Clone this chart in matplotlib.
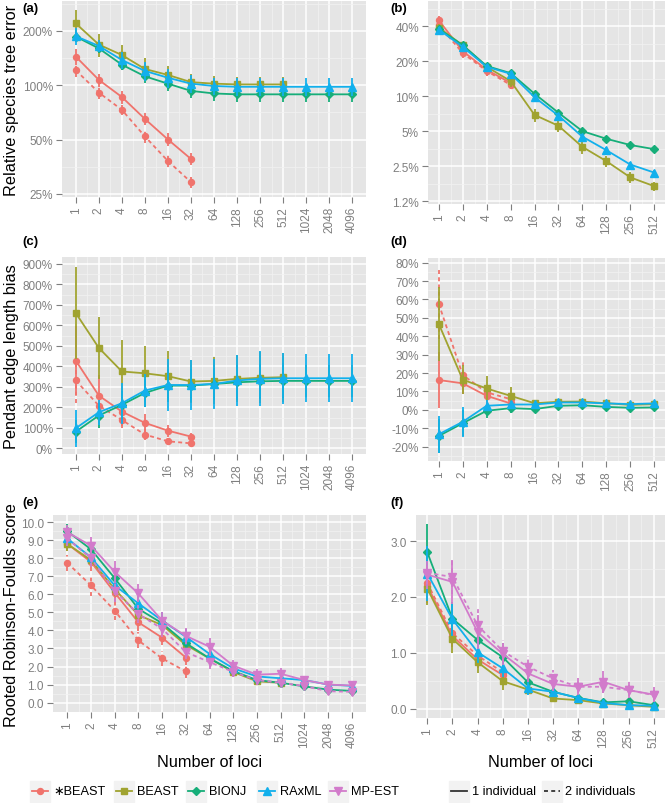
import numpy as np
import matplotlib
matplotlib.use('Agg')
import matplotlib.pyplot as plt
from matplotlib.patches import Rectangle
from matplotlib.ticker import FixedLocator, NullFormatter

plt.rcParams['font.family'] = ['Liberation Sans', 'DejaVu Sans']

W, H = 667, 804

# methods / legend
METHODS = ['\u2217BEAST', 'BEAST', 'BIONJ', 'RAxML', 'MP-EST']
COLORS = ['#F0736C', '#A0A330', '#16AE79', '#12B0EC', '#D27BCB']
MARKERS = ['o', 's', 'D', '^', 'v']
MSIZE = [4.3, 3.9, 3.6, 5.6, 5.6]
LINETYPES = ['1 individual', '2 individuals']

LOCI_LEFT = [1, 2, 4, 8, 16, 32, 64, 128, 256, 512, 1024, 2048, 4096]
LOCI_RIGHT = [1, 2, 4, 8, 16, 32, 64, 128, 256, 512]

# (a) relative species tree error, %
A_SB1 = [144, 107, 86, 65, 50, 39]
A_SB1_ERR = [14, 9, 7, 5, 4, 3]
A_SB2 = [121, 91, 73, 52, 38, 29]
A_SB2_ERR = [10, 7, 5, 4, 3, 2]
A_BE = [220, 168, 147, 123, 114, 104, 102, 101, 101, 101]
A_BE_ERR = [40, 25, 20, 18, 14, 12, 10, 10, 10, 10]
A_NJ = [186, 160, 130, 112, 102, 93, 90, 89, 89, 89, 89, 89, 89]
A_NJ_ERR = [12, 10, 9, 9, 9, 8, 8, 8, 8, 8, 8, 8, 8]
A_RX = [187, 165, 138, 120, 110, 102, 99, 98, 98, 98, 98, 98, 98]
A_RX_ERR = [20, 12, 15, 14, 13, 12, 11, 11, 11, 11, 11, 11, 11]

# (b) relative species tree error, %
B_SB1 = [45, 24.4, 16.9, 13.0]
B_SB1_ERR = [4, 2.5, 2, 1.2]
B_SB2 = [41, 23.5, 16.5, 12.5]
B_SB2_ERR = [3, 2, 1.5, 1]
B_BE = [38.7, 27.5, 17.9, 13.5, 6.9, 5.56, 3.66, 2.76, 2.0, 1.68]
B_BE_ERR = [3, 2, 1.5, 1.5, 0.9, 0.6, 0.45, 0.3, 0.22, 0.15]
B_NJ = [38, 27.5, 18.2, 15.8, 10.5, 7.2, 5.0, 4.3, 3.8, 3.5]
B_NJ_ERR = [2, 1.5, 1, 0.8, 0.6, 0.4, 0.25, 0.2, 0.15, 0.15]
B_RX = [37.4, 26.6, 17.9, 15.6, 9.8, 6.8, 4.48, 3.43, 2.58, 2.2]
B_RX_ERR = [2, 1.5, 1, 0.8, 0.6, 0.4, 0.25, 0.2, 0.15, 0.12]

# (c) pendant edge length bias, %
C_SB1 = [428, 257, 179, 124, 86, 57]
C_SB1_ERR = [170, 100, 70, 45, 30, 18]
C_SB2 = [331, 208, 138, 67, 34, 24]
C_SB2_ERR = [110, 70, 40, 25, 15, 10]
C_BE = [660, 490, 375, 366, 352, 326, 329, 339, 344, 347]
C_BE_ERR = [225, 150, 155, 135, 125, 105, 115, 115, 125, 120]
C_NJ = [81, 160, 212, 270, 306, 306, 314, 322, 327, 329, 329, 329, 329]
C_NJ_ERR = [55, 60, 70, 70, 80, 80, 80, 85, 85, 85, 80, 80, 80]
C_RX = [98, 176, 220, 282, 309, 309, 314, 331, 339, 342, 342, 342, 342]
C_RX_ERR = [90, 60, 100, 80, 125, 120, 120, 125, 135, 125, 118, 118, 118]

# (d) pendant edge length bias, %
D_SB1 = [16.2, 14.4, 7.6, 3.5]
D_SB1_ERR = [15, 6, 4, 3]
D_SB2 = [57.6, 18.9, 9.5, 5.8]
D_SB2_ERR = [19, 7, 4, 2.5]
D_BE = [46.7, 16.4, 11.6, 7.6, 3.6, 4.4, 4.5, 3.6, 2.7, 3.1]
D_BE_ERR = [20, 8, 7, 5, 1.5, 1.2, 1.2, 1, 1, 1]
D_NJ = [-14.2, -7.3, -0.5, 0.9, 0.4, 2.2, 2.5, 1.6, 1.1, 1.3]
D_NJ_ERR = [9, 7, 4, 2.5, 1.5, 1, 1, 1, 1, 1]
D_RX = [-13.3, -6.5, 2.2, 2.9, 2.9, 4.0, 4.0, 3.5, 3.1, 3.5]
D_RX_ERR = [10, 8, 3, 2, 1.5, 1.2, 1.2, 1.2, 1.2, 1.2]

# (e) rooted Robinson-Foulds score
E_SB1 = [8.8, 7.8, 6.1, 4.45, 3.6, 2.5]
E_SB1_ERR = [0.4, 0.5, 0.5, 0.5, 0.4, 0.4]
E_SB2 = [7.75, 6.5, 5.1, 3.45, 2.45, 1.73]
E_SB2_ERR = [0.45, 0.6, 0.5, 0.45, 0.4, 0.35]
E_BE = [8.8, 7.9, 6.3, 4.85, 4.3, 3.2, 2.45, 1.7, 1.18, 1.1]
E_BE_ERR = [0.4, 0.4, 0.4, 0.4, 0.35, 0.3, 0.25, 0.2, 0.15, 0.15]
E_NJ = [9.5, 8.5, 6.9, 5.2, 4.4, 3.3, 2.45, 1.75, 1.25, 1.1, 0.9, 0.72, 0.65]
E_NJ_ERR = [0.4, 0.4, 0.4, 0.4, 0.4, 0.35, 0.3, 0.2, 0.15, 0.15, 0.12, 0.1, 0.1]
E_RX = [9.1, 8.05, 6.5, 5.5, 4.55, 3.65, 2.7, 1.9, 1.45, 1.35, 1.25, 1.0, 0.93]
E_RX_ERR = [0.4, 0.4, 0.5, 0.5, 0.5, 0.45, 0.4, 0.3, 0.2, 0.2, 0.2, 0.15, 0.15]
E_MP1 = [9.45, 8.7, 7.25, 6.05, 4.55, 3.7, 3.1, 2.05, 1.55, 1.6, 1.25, 1.0, 0.95]
E_MP1_ERR = [0.4, 0.5, 0.6, 0.5, 0.45, 0.45, 0.5, 0.3, 0.3, 0.3, 0.2, 0.2, 0.15]
E_MP2 = [9.1, 8.0, 6.2, 4.9, 4.1, 2.8, 2.25, 1.7, 1.25, 1.1, 0.92, 0.63, 0.6]
E_MP2_ERR = [0.4, 0.5, 0.6, 0.5, 0.45, 0.4, 0.4, 0.3, 0.25, 0.2, 0.2, 0.15, 0.15]

# (f) rooted Robinson-Foulds score
F_SB1 = [2.2, 1.3, 0.88, 0.6]
F_SB1_ERR = [0.3, 0.2, 0.15, 0.15]
F_SB2 = [2.25, 1.35, 0.95, 0.65]
F_SB2_ERR = [0.3, 0.2, 0.15, 0.15]
F_BE = [2.15, 1.25, 0.83, 0.49, 0.34, 0.18, 0.15, 0.09, 0.06, 0.03]
F_BE_ERR = [0.3, 0.25, 0.2, 0.15, 0.08, 0.06, 0.05, 0.04, 0.03, 0.02]
F_NJ = [2.8, 1.61, 1.23, 0.92, 0.47, 0.3, 0.19, 0.11, 0.13, 0.06]
F_NJ_ERR = [0.5, 0.3, 0.2, 0.25, 0.1, 0.08, 0.06, 0.05, 0.05, 0.04]
F_RX = [2.42, 1.6, 1.01, 0.72, 0.36, 0.3, 0.19, 0.1, 0.06, 0.05]
F_RX_ERR = [0.5, 0.3, 0.2, 0.15, 0.12, 0.08, 0.06, 0.05, 0.04, 0.03]
F_MP1 = [2.4, 2.27, 1.37, 0.98, 0.63, 0.44, 0.39, 0.48, 0.33, 0.25]
F_MP1_ERR = [0.25, 0.4, 0.3, 0.2, 0.15, 0.12, 0.15, 0.2, 0.15, 0.13]
F_MP2 = [2.43, 2.36, 1.49, 1.03, 0.75, 0.54, 0.39, 0.39, 0.33, 0.24]
F_MP2_ERR = [0.2, 0.3, 0.3, 0.2, 0.2, 0.15, 0.12, 0.12, 0.1, 0.1]

GREY_TXT = '#7F7F7F'
DASH = (0, (2.2, 1.8))

fig = plt.figure(figsize=(W / 100, H / 100), dpi=100)


def panel(box, loci, series, yticks, ylabels, yminor, ylim, log=False):
    l, t, r, b = box
    ax = fig.add_axes([l / W, 1 - b / H, (r - l) / W, (b - t) / H])
    ax.set_facecolor('#E5E5E5')
    k = np.log2(loci)
    if log:
        ax.set_yscale('log')
    ax.set_xlim(-0.05 * k[-1], 1.05 * k[-1])
    ax.set_ylim(*ylim)
    ax.set_xticks(k)
    ax.set_xticklabels([str(v) for v in loci], rotation=90, va='top')
    ax.xaxis.set_minor_locator(FixedLocator(k[:-1] + 0.5))
    ax.yaxis.set_major_locator(FixedLocator(yticks))
    ax.set_yticklabels(ylabels)
    ax.yaxis.set_minor_locator(FixedLocator(yminor))
    ax.yaxis.set_minor_formatter(NullFormatter())
    ax.grid(which='major', color='white', lw=1.1)
    ax.grid(which='minor', color='#F2F2F2', lw=0.5)
    ax.set_axisbelow(True)
    for s in ax.spines.values():
        s.set_visible(False)
    ax.tick_params(which='major', length=4, width=0.8, color=GREY_TXT,
                   labelcolor=GREY_TXT, labelsize=8.5, pad=2.5)
    ax.tick_params(which='minor', length=0)
    for mi, dashed, vals, errs in series:
        v = np.array(vals, dtype=float)
        e = np.array(errs, dtype=float)
        xs = k[:len(v)]
        ls = DASH if dashed else '-'
        ax.vlines(xs, v - e, v + e, colors=COLORS[mi], lw=1.3, linestyles=ls,
                  zorder=2 + mi)
        ax.plot(xs, v, color=COLORS[mi], lw=1.3, ls=ls, marker=MARKERS[mi],
                ms=MSIZE[mi], mec=COLORS[mi], zorder=2 + mi)
    return ax


def pct(vals):
    return ['%g%%' % v for v in vals]


panel((62, 2, 366, 198), LOCI_LEFT,
      [(0, False, A_SB1, A_SB1_ERR), (0, True, A_SB2, A_SB2_ERR),
       (1, False, A_BE, A_BE_ERR), (2, False, A_NJ, A_NJ_ERR),
       (3, False, A_RX, A_RX_ERR)],
      [25, 50, 100, 200], pct([25, 50, 100, 200]),
      [35.36, 70.71, 141.4, 282.8], (24, 293), log=True)

panel((428, 2, 665, 205), LOCI_RIGHT,
      [(0, False, B_SB1, B_SB1_ERR), (0, True, B_SB2, B_SB2_ERR),
       (1, False, B_BE, B_BE_ERR), (2, False, B_NJ, B_NJ_ERR),
       (3, False, B_RX, B_RX_ERR)],
      [1.25, 2.5, 5, 10, 20, 40], ['1.2%', '2.5%', '5%', '10%', '20%', '40%'],
      [1.77, 3.54, 7.07, 14.14, 28.28, 56.57], (1.18, 66), log=True)

panel((62, 258, 366, 455), LOCI_LEFT,
      [(0, False, C_SB1, C_SB1_ERR), (0, True, C_SB2, C_SB2_ERR),
       (1, False, C_BE, C_BE_ERR), (2, False, C_NJ, C_NJ_ERR),
       (3, False, C_RX, C_RX_ERR)],
      list(range(0, 901, 100)), pct(range(0, 901, 100)),
      list(range(50, 901, 100)), (-28, 934))

panel((428, 259, 665, 462), LOCI_RIGHT,
      [(0, False, D_SB1, D_SB1_ERR), (0, True, D_SB2, D_SB2_ERR),
       (1, False, D_BE, D_BE_ERR), (2, False, D_NJ, D_NJ_ERR),
       (3, False, D_RX, D_RX_ERR)],
      list(range(-20, 81, 10)), pct(range(-20, 81, 10)),
      list(range(-25, 81, 10)), (-27.8, 82.5))

panel((53, 516, 366, 713), LOCI_LEFT,
      [(0, False, E_SB1, E_SB1_ERR), (0, True, E_SB2, E_SB2_ERR),
       (1, False, E_BE, E_BE_ERR), (2, False, E_NJ, E_NJ_ERR),
       (3, False, E_RX, E_RX_ERR), (4, False, E_MP1, E_MP1_ERR),
       (4, True, E_MP2, E_MP2_ERR)],
      np.arange(0, 10.1, 1), ['%.1f' % v for v in np.arange(0, 10.1, 1)],
      np.arange(0.5, 10.4, 1), (-0.52, 10.4))

panel((416, 516, 665, 719), LOCI_RIGHT,
      [(0, False, F_SB1, F_SB1_ERR), (0, True, F_SB2, F_SB2_ERR),
       (1, False, F_BE, F_BE_ERR), (2, False, F_NJ, F_NJ_ERR),
       (3, False, F_RX, F_RX_ERR), (4, False, F_MP1, F_MP1_ERR),
       (4, True, F_MP2, F_MP2_ERR)],
      [0, 1, 2, 3], ['0.0', '1.0', '2.0', '3.0'],
      [0.5, 1.5, 2.5], (-0.17, 3.47))

# panel tags
for tag, x, y in [('(a)', 22, 9), ('(b)', 390, 9), ('(c)', 22, 242),
                  ('(d)', 390, 242), ('(e)', 22, 503), ('(f)', 390, 503)]:
    fig.text(x / W, 1 - y / H, tag, fontsize=9.5, fontweight='bold',
             va='center', ha='left')

# axis titles
for txt, yc in [('Relative species tree error', 100),
                ('Pendant edge length bias', 357),
                ('Rooted Robinson-Foulds score', 615)]:
    fig.text(12 / W, 1 - yc / H, txt, rotation=90, fontsize=11.7,
             va='center', ha='center')
for xc in [(53 + 366) / 2, (416 + 665) / 2]:
    fig.text(xc / W, 1 - 763 / H, 'Number of loci', fontsize=11.7,
             va='center', ha='center')

# legend, drawn by hand so the keys get their grey boxes
leg = fig.add_axes([0, 0, 1, 1])
leg.set_xlim(0, W)
leg.set_ylim(H, 0)
leg.axis('off')
ly = 792
for mi, kx in enumerate([40, 124, 196, 267, 338]):
    leg.add_patch(Rectangle((kx - 10, ly - 10), 20, 21, color='#F2F2F2'))
    leg.plot([kx - 8, kx + 8], [ly, ly], color=COLORS[mi], lw=1.3)
    leg.plot([kx], [ly], marker=MARKERS[mi], ms=MSIZE[mi], color=COLORS[mi])
    leg.text(kx + 13, ly, METHODS[mi], fontsize=9.2, va='center', ha='left')
for li, kx in enumerate([459, 552]):
    leg.add_patch(Rectangle((kx - 10, ly - 10), 20, 21, color='#F2F2F2'))
    leg.plot([kx - 8, kx + 8], [ly, ly], color='#333333', lw=1.3,
             ls=DASH if li else '-')
    leg.text(kx + 13, ly, LINETYPES[li], fontsize=9.2, va='center', ha='left')

fig.savefig('out.png', dpi=100)
plt.close(fig)
